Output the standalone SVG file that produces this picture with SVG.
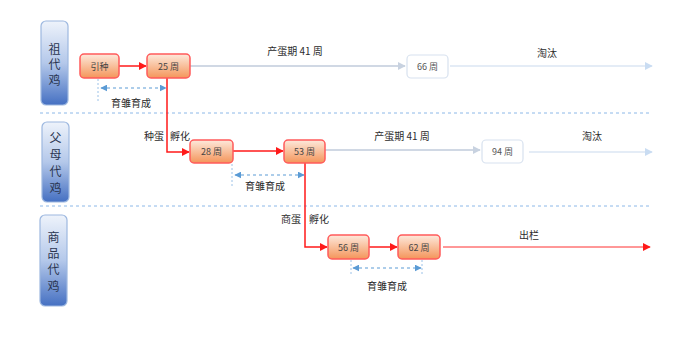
<svg xmlns="http://www.w3.org/2000/svg" width="700" height="342" viewBox="0 0 700 342">
<defs>
<linearGradient id="gNode" x1="0" y1="0" x2="0" y2="1"><stop offset="0" stop-color="#fde9dc"/><stop offset="1" stop-color="#f4955a"/></linearGradient>
<linearGradient id="gLbl" x1="0" y1="0" x2="0" y2="1"><stop offset="0" stop-color="#eef3fb"/><stop offset="0.5" stop-color="#b4c8ea"/><stop offset="1" stop-color="#4570c2"/></linearGradient>
<linearGradient id="gLine" x1="0" y1="0" x2="1" y2="0"><stop offset="0" stop-color="#a9c8ec"/><stop offset="0.5" stop-color="#8fb8e6"/><stop offset="1" stop-color="#b9d3f0"/></linearGradient>
<marker id="mRed" viewBox="0 0 10 10" refX="9" refY="5" markerWidth="8" markerHeight="8" markerUnits="userSpaceOnUse" orient="auto"><path d="M0,0 L10,5 L0,10 z" fill="#ff1a1a"/></marker>
<marker id="mGray" viewBox="0 0 10 10" refX="9" refY="5" markerWidth="8" markerHeight="8" markerUnits="userSpaceOnUse" orient="auto"><path d="M0,0 L10,5 L0,10 z" fill="#c8d2e0"/></marker>
<marker id="mPale" viewBox="0 0 10 10" refX="9" refY="5" markerWidth="8" markerHeight="8" markerUnits="userSpaceOnUse" orient="auto"><path d="M0,0 L10,5 L0,10 z" fill="#c9dcf2"/></marker>
<marker id="mBlueE" viewBox="0 0 10 10" refX="9" refY="5" markerWidth="7" markerHeight="7" markerUnits="userSpaceOnUse" orient="auto"><path d="M0,0 L10,5 L0,10 z" fill="#5b9bd5"/></marker>
<marker id="mBlueS" viewBox="0 0 10 10" refX="1" refY="5" markerWidth="7" markerHeight="7" markerUnits="userSpaceOnUse" orient="auto"><path d="M10,0 L0,5 L10,10 z" fill="#5b9bd5"/></marker>
</defs>
<style>
text{font-family:"Noto Sans CJK SC","Liberation Sans",sans-serif;fill:#333;}
.node rect{fill:url(#gNode);stroke:#ff5b5b;stroke-width:1.5;}
.node text{font-size:9px;text-anchor:middle;dominant-baseline:central;fill:#444;}
.pale rect{fill:#fff;stroke:#d8e2ef;stroke-width:1.2;}
.pale text{font-size:9px;text-anchor:middle;dominant-baseline:central;fill:#555;}
.lbl rect{fill:url(#gLbl);stroke:#9db8e0;stroke-width:1.2;}
.lbl text{font-size:12px;text-anchor:middle;dominant-baseline:central;fill:#2a3550;}
.cap{font-size:10px;text-anchor:middle;dominant-baseline:central;fill:#2b2b2b;}
.red{stroke:#ff1a1a;stroke-width:1.5;fill:none;}
.redthin{stroke:#ff3030;stroke-width:1;fill:none;}
.gray{stroke:#d0d8e4;stroke-width:2;fill:none;}
.paleln{stroke:#dbe6f3;stroke-width:1.5;fill:none;}
.sep{stroke:#8cb8e8;stroke-width:1;stroke-dasharray:3 3;fill:none;}
.dim{stroke:#5b9bd5;stroke-width:1;stroke-dasharray:3 3;fill:none;}
.tick{stroke:#9cc2e8;stroke-width:1;stroke-dasharray:2 2;fill:none;}
</style>
<g id="frame">
<line x1="40" y1="13" x2="655" y2="13" stroke="url(#gLine)" stroke-width="1.5"/>
<line x1="40" y1="319" x2="655" y2="319" stroke="url(#gLine)" stroke-width="1.5"/>
<line class="sep" x1="40" y1="113" x2="652" y2="113"/>
<line class="sep" x1="40" y1="206" x2="652" y2="206"/>
</g>
<g id="lbl-gp" class="lbl"><rect x="41" y="21" width="27" height="84" rx="5"/><text x="54.5" y="48">祖</text><text x="54.5" y="63.5">代</text><text x="54.5" y="79">鸡</text></g>
<g id="lbl-p" class="lbl"><rect x="42" y="122" width="27" height="80" rx="5"/><text x="55.5" y="136">父</text><text x="55.5" y="153">母</text><text x="55.5" y="170">代</text><text x="55.5" y="187">鸡</text></g>
<g id="lbl-c" class="lbl"><rect x="40" y="215" width="27" height="91" rx="5"/><text x="53.5" y="236">商</text><text x="53.5" y="252">品</text><text x="53.5" y="268">代</text><text x="53.5" y="285">鸡</text></g>
<g id="connectors">
<line class="red" x1="119" y1="66" x2="146" y2="66" marker-end="url(#mRed)"/>
<line class="gray" x1="190" y1="66" x2="405" y2="66" marker-end="url(#mGray)"/>
<line class="paleln" x1="450" y1="66" x2="652" y2="66" marker-end="url(#mPale)"/>
<polyline class="red" points="167,78 167,152 189,152" marker-end="url(#mRed)"/>
<line class="red" x1="233" y1="151" x2="283" y2="151" marker-end="url(#mRed)"/>
<line class="gray" x1="325" y1="150" x2="480" y2="150" marker-end="url(#mGray)"/>
<line class="paleln" x1="529" y1="152" x2="652" y2="152" marker-end="url(#mPale)"/>
<polyline class="red" points="305,163 305,247 327,247" marker-end="url(#mRed)"/>
<line class="red" x1="369" y1="247" x2="397" y2="247" marker-end="url(#mRed)"/>
<line class="redthin" x1="443" y1="247" x2="650" y2="247" marker-end="url(#mRed)"/>
<line class="tick" x1="98" y1="79" x2="98" y2="103"/>
<line class="dim" x1="101" y1="88" x2="166" y2="88" marker-start="url(#mBlueS)" marker-end="url(#mBlueE)"/>
<line class="tick" x1="232" y1="164" x2="232" y2="187"/>
<line class="dim" x1="235" y1="175" x2="304" y2="175" marker-start="url(#mBlueS)" marker-end="url(#mBlueE)"/>
<line class="tick" x1="351" y1="260" x2="351" y2="274"/>
<line class="tick" x1="422" y1="260" x2="422" y2="274"/>
<line class="dim" x1="353" y1="268" x2="421" y2="268" marker-start="url(#mBlueS)" marker-end="url(#mBlueE)"/>
</g>
<g id="captions">
<text class="cap" x="131" y="102">育雏育成</text>
<text class="cap" x="295" y="50">产蛋期 41 周</text>
<text class="cap" x="547" y="52">淘汰</text>
<text class="cap" x="154" y="135">种蛋</text>
<text class="cap" x="180" y="135">孵化</text>
<text class="cap" x="265" y="185">育雏育成</text>
<text class="cap" x="402" y="135">产蛋期 41 周</text>
<text class="cap" x="592" y="135">淘汰</text>
<text class="cap" x="291" y="218">商蛋</text>
<text class="cap" x="319" y="218">孵化</text>
<text class="cap" x="387" y="285">育雏育成</text>
<text class="cap" x="529" y="234">出栏</text>
</g>
<g id="n-yinzhong" class="node"><rect x="80" y="54" width="39" height="24" rx="4"/><text x="99.5" y="66">引种</text></g>
<g id="n-25" class="node"><rect x="147" y="54" width="43" height="24" rx="4"/><text x="168.5" y="66">25 周</text></g>
<g id="n-66" class="pale"><rect x="407" y="55" width="41" height="23" rx="4"/><text x="427.5" y="66.5">66 周</text></g>
<g id="n-28" class="node"><rect x="190" y="140" width="43" height="23" rx="4"/><text x="211.5" y="151.5">28 周</text></g>
<g id="n-53" class="node"><rect x="284" y="140" width="41" height="23" rx="4"/><text x="304.5" y="151.5">53 周</text></g>
<g id="n-94" class="pale"><rect x="482" y="140" width="41" height="23" rx="4"/><text x="502.5" y="151.5">94 周</text></g>
<g id="n-56" class="node"><rect x="328" y="235" width="41" height="24" rx="4"/><text x="348.5" y="247">56 周</text></g>
<g id="n-62" class="node"><rect x="398" y="235" width="42" height="24" rx="4"/><text x="419" y="247">62 周</text></g>
</svg>
